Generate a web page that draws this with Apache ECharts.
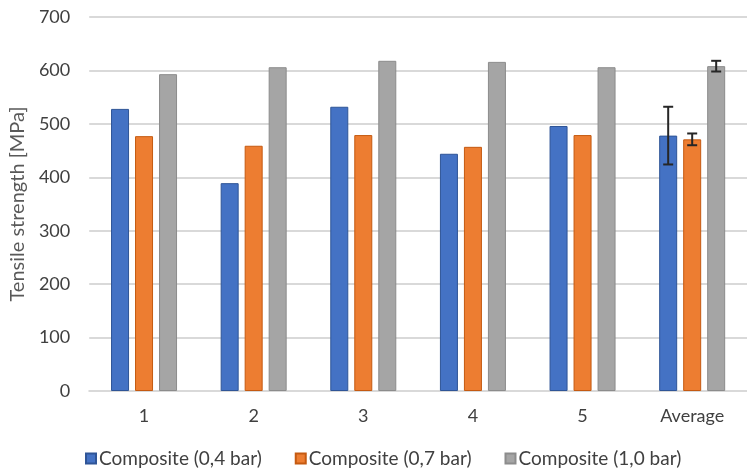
<!DOCTYPE html>
<html><head><meta charset="utf-8">
<script src="https://cdn.jsdelivr.net/npm/echarts@6/dist/echarts.min.js"></script>
<style>html,body{margin:0;padding:0;background:#fff}#c{width:747px;height:475px}</style>
</head><body><div id="c"></div>
<script>
const categories = ['1', '2', '3', '4', '5', 'Average'];
const seriesNames = ['Composite (0,4 bar)', 'Composite (0,7 bar)', 'Composite (1,0 bar)'];
const s04 = [528, 389, 532, 444, 496, 478];
const s07 = [477, 459, 479, 457, 479, 471];
const s10 = [593, 606, 618, 616, 606, 608];
const errIndex = 5;
const err04 = 54;
const err07 = 11;
const err10 = 10;
const yTicks = [0, 100, 200, 300, 400, 500, 600, 700];

const FONT = "Lato, sans-serif";
const BW = 18, GAP = 6;
const offsets = [-(BW + GAP), 0, BW + GAP];
const seriesData = [s04, s07, s10];
const errs = [err04, err07, err10];
const errData = seriesData.map((d, i) => [i, errIndex, d[errIndex] - errs[i], d[errIndex] + errs[i]]);

const chart = echarts.init(document.getElementById('c'));
const colors = ['#4472C4', '#ED7D31', '#A5A5A5'];
const borders = ['#2F5597', '#C55A11', '#8C8C8C'];
chart.setOption({
  animation: false,
  grid: { left: 89, right: -6, top: 17, bottom: 84, containLabel: false },
  legend: {
    bottom: 2, left: 80, itemWidth: 10, itemHeight: 10, itemGap: 33,
    icon: 'rect',
    textStyle: { fontFamily: FONT, fontSize: 19, color: '#404040', padding: [0, 0, 0, -2] },
    data: seriesNames
  },
  xAxis: {
    type: 'category', data: categories,
    axisLine: { lineStyle: { color: '#d9d9d9', width: 2 } },
    axisTick: { show: false },
    axisLabel: { fontFamily: FONT, fontSize: 18, color: '#404040', margin: 16 }
  },
  yAxis: {
    type: 'value', min: yTicks[0], max: yTicks[yTicks.length - 1], interval: 100,
    name: 'Tensile strength [MPa]', nameLocation: 'middle', nameGap: 48,
    nameTextStyle: { fontFamily: FONT, fontSize: 20, color: '#595959' },
    axisLine: { show: false }, axisTick: { show: false },
    axisLabel: { fontFamily: FONT, fontSize: 18, color: '#404040', margin: 19 },
    splitLine: { lineStyle: { color: '#d9d9d9', width: 2 } }
  },
  series: seriesData.map((d, i) => ({
    name: seriesNames[i], type: 'bar', data: d, barWidth: BW, barGap: (GAP / BW * 100) + '%',
    itemStyle: { color: colors[i], borderColor: borders[i], borderWidth: 1 }
  })).concat([{
    type: 'custom', name: 'err', data: errData, z: 10,
    renderItem: function (params, api) {
      const s = api.value(0), c = api.value(1);
      const lo = api.coord([c, api.value(2)]);
      const hi = api.coord([c, api.value(3)]);
      const x = lo[0] + offsets[s];
      const cap = 5;
      const st = { stroke: '#262626', lineWidth: 2 };
      return { type: 'group', children: [
        { type: 'line', shape: { x1: x, y1: lo[1], x2: x, y2: hi[1] }, style: st },
        { type: 'line', shape: { x1: x - cap, y1: lo[1], x2: x + cap, y2: lo[1] }, style: st },
        { type: 'line', shape: { x1: x - cap, y1: hi[1], x2: x + cap, y2: hi[1] }, style: st }
      ]};
    },
    encode: { x: 1, y: 3 }
  }])
});
</script></body></html>
